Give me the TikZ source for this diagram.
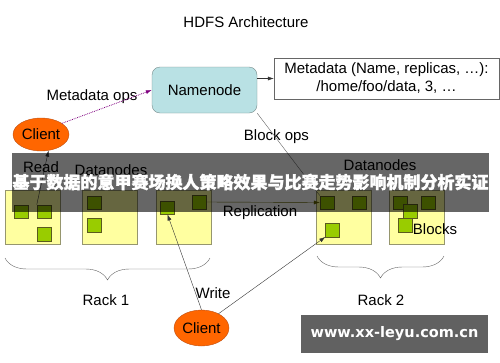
\documentclass[tikz,border=0pt]{standalone}
\usepackage{xcolor}
\usepackage{fontspec}
\setmainfont{Liberation Sans}
\newfontfamily\cjk[FakeBold=1.5]{Noto Sans CJK SC}
\newfontfamily\wmfont{DejaVu Sans}
\usepackage{tikz}
\usetikzlibrary{decorations.pathreplacing,arrows.meta,positioning,shapes}

\definecolor{namefill}{RGB}{185,225,228}
\definecolor{nameline}{RGB}{120,140,140}
\definecolor{dnfill}{RGB}{255,255,160}
\definecolor{dnline}{RGB}{150,150,110}
\definecolor{blkfill}{RGB}{153,204,0}
\definecolor{blkline}{RGB}{90,90,30}
\definecolor{clientfill}{RGB}{255,102,0}
\definecolor{clientline}{RGB}{190,80,20}
\definecolor{opsline}{RGB}{128,0,128}
\definecolor{repline}{RGB}{102,102,0}

\begin{document}
\begin{tikzpicture}[x=1pt,y=-1pt,>={Latex[length=6pt,width=4pt]},
    every node/.style={font=\fontsize{15}{18}\selectfont},
    datanode/.style={draw=dnline,fill=dnfill,minimum width=55pt,minimum height=54pt,inner sep=0pt},
    block/.style={draw=blkline,fill=blkfill,minimum width=14pt,minimum height=13.5pt,inner sep=0pt},
    client/.style={ellipse,draw=clientline,fill=clientfill,inner sep=0pt},
    rackbrace/.style={decorate,decoration={brace,mirror,amplitude=22pt},draw=black!60}]
    \fill[white] (0,0) rectangle (500,362);
    \useasboundingbox (0,0) rectangle (500,362);

    % Title
    \node (title) at (246,22) {HDFS Architecture};

    % Namenode and its metadata
    \node[draw=nameline,fill=namefill,rounded corners=8pt,minimum width=105pt,minimum height=46pt] (nn) at (204.5,90) {Namenode};
    \node[draw=black!60,align=center,minimum width=225pt,minimum height=41pt,inner sep=0pt] (meta) at (386.5,78.5)
        {Metadata (Name, replicas, …):\\/home/foo/data, 3, …};
    \draw[->,black!80] (nn.east |- meta.west) -- (meta.west);

    % Clients
    \node[client,minimum width=56pt,minimum height=33pt] (c1) at (41,134.5) {Client};
    \node[client,minimum width=55pt,minimum height=36pt] (c2) at (201.5,328) {Client};

    % Datanodes, rack 1
    \node[datanode] (dn1) at (32.5,217) {};
    \node[datanode] (dn2) at (110,217) {};
    \node[datanode] (dn3) at (183.5,217) {};
    \node[block] (b11) at (21,211.5) {};
    \node[block] (b12) at (44,211.5) {};
    \node[block] (b13) at (44,234) {};
    \node[block] (b21) at (94,202.5) {};
    \node[block] (b22) at (94,225) {};
    \node[block] (b31) at (167.5,207.5) {};
    \node[block] (b32) at (199.5,202) {};

    % Datanodes, rack 2
    \node[datanode] (dn4) at (343.5,217) {};
    \node[datanode] (dn5) at (416.5,217) {};
    \node[block] (b41) at (327,202.5) {};
    \node[block] (b42) at (359,202.5) {};
    \node[block] (b43) at (332.5,230) {};
    \node[block] (b51) at (400,202.5) {};
    \node[block] (b52) at (428,202.5) {};
    \node[block] (b53) at (410,211) {};
    \node[block] (b54) at (405,225) {};

    % Labels
    \node (metaops) at (92,97) {Metadata ops};
    \node (read) at (41,167) {Read};
    \node (dnlabel1) at (111,170) {Datanodes};
    \node (dnlabel2) at (380,165) {Datanodes};
    \node (blockops) at (276.5,137) {Block ops};
    \node (repl) at (260,213) {Replication};
    \node (write) at (213,293) {Write};
    \node (blocks) at (435,229) {Blocks};

    % Operations
    \draw[->,opsline,densely dotted,thick] (c1.28) -- (nn.west);
    \draw[black!60] (nn.south east) -- (b41.north west);
    \draw[->,black!80] (b12.north west) -- (c1.-65);
    \draw[->,black!80] (c2.north) -- (b31.south);
    \draw[->,black!80] (c2.40) -- (b43.south west);
    \draw[->,repline] (b32.east) -- (b41.west);

    % Racks
    \coordinate (r1a) at (5,258);
    \coordinate (r1b) at (210,258);
    \coordinate (r2a) at (317,256);
    \coordinate (r2b) at (444,256);
    \draw[rackbrace] (r1a) -- (r1b);
    \draw[rackbrace] (r2a) -- (r2b);
    \node (rack1) at (106,300) {Rack 1};
    \node (rack2) at (381,300) {Rack 2};

    % Banner and watermark
    \node[fill=black,fill opacity=0.6,text opacity=1,text=white,minimum width=477pt,minimum height=59pt,inner sep=0pt,
        font=\fontsize{17}{17}\selectfont\cjk\bfseries] (banner) at (250.5,182)
        {基于数据的意甲赛场换人策略效果与比赛走势影响机制分析实证};
    \node[fill=black!62,text=white,minimum width=187pt,minimum height=38pt,inner sep=0pt,
        font=\fontsize{14.5}{14.5}\selectfont\wmfont\bfseries] (wmark) at (394.5,334) {www.xx-leyu.com.cn};
\end{tikzpicture}
\end{document}
